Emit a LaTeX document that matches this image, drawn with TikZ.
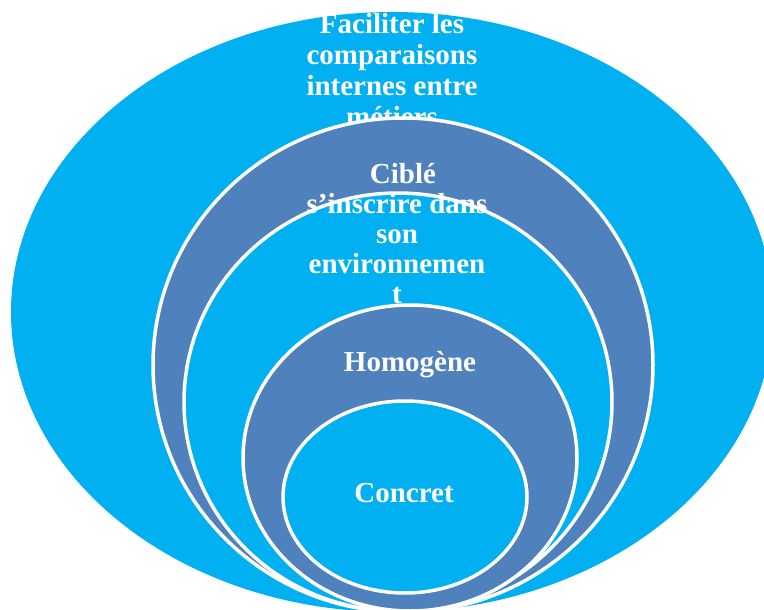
\documentclass[tikz,border=0pt]{standalone}
\usepackage{fontspec}
\setmainfont{Liberation Serif}
\definecolor{ringcyan}{HTML}{00B0F0}
\definecolor{ringslate}{HTML}{4F81BD}
\tikzset{
  ringA/.style={fill=ringcyan},
  ringB/.style={fill=ringslate, draw=white, line width=3.5pt},
  ringC/.style={fill=ringcyan, draw=white, line width=3.5pt},
  lbl/.style={text=white, align=center, anchor=base, inner sep=0pt,
    font=\fontsize{29pt}{31pt}\selectfont\bfseries}
}
\begin{document}
\begin{tikzpicture}[x=1pt,y=-1pt]
\useasboundingbox (0,0) rectangle (764,610);
\clip (0,0) rectangle (764,610);
\path[ringA] (392,312) ellipse [x radius=381pt, y radius=300pt];
\node[lbl] (t1) at (392,126) {Faciliter les\\comparaisons\\internes entre\\métiers};
\path[ringB] (403,365) ellipse [x radius=250pt, y radius=247pt];
\node[lbl] (t2) at (403,183) {Ciblé};
\path[ringC] (398,402) ellipse [x radius=214pt, y radius=209pt];
\node[lbl, font=\fontsize{29pt}{30pt}\selectfont\bfseries] (t3) at (397,303) {s’inscrire dans\\son\\environnemen\\t};
\path[ringB] (410,458) ellipse [x radius=167pt, y radius=153pt];
\node[lbl] (t4) at (410,371) {Homogène};
\path[ringC] (405,497) ellipse [x radius=122pt, y radius=96pt];
\node[lbl] (t5) at (404,502) {Concret};
\end{tikzpicture}
\end{document}
